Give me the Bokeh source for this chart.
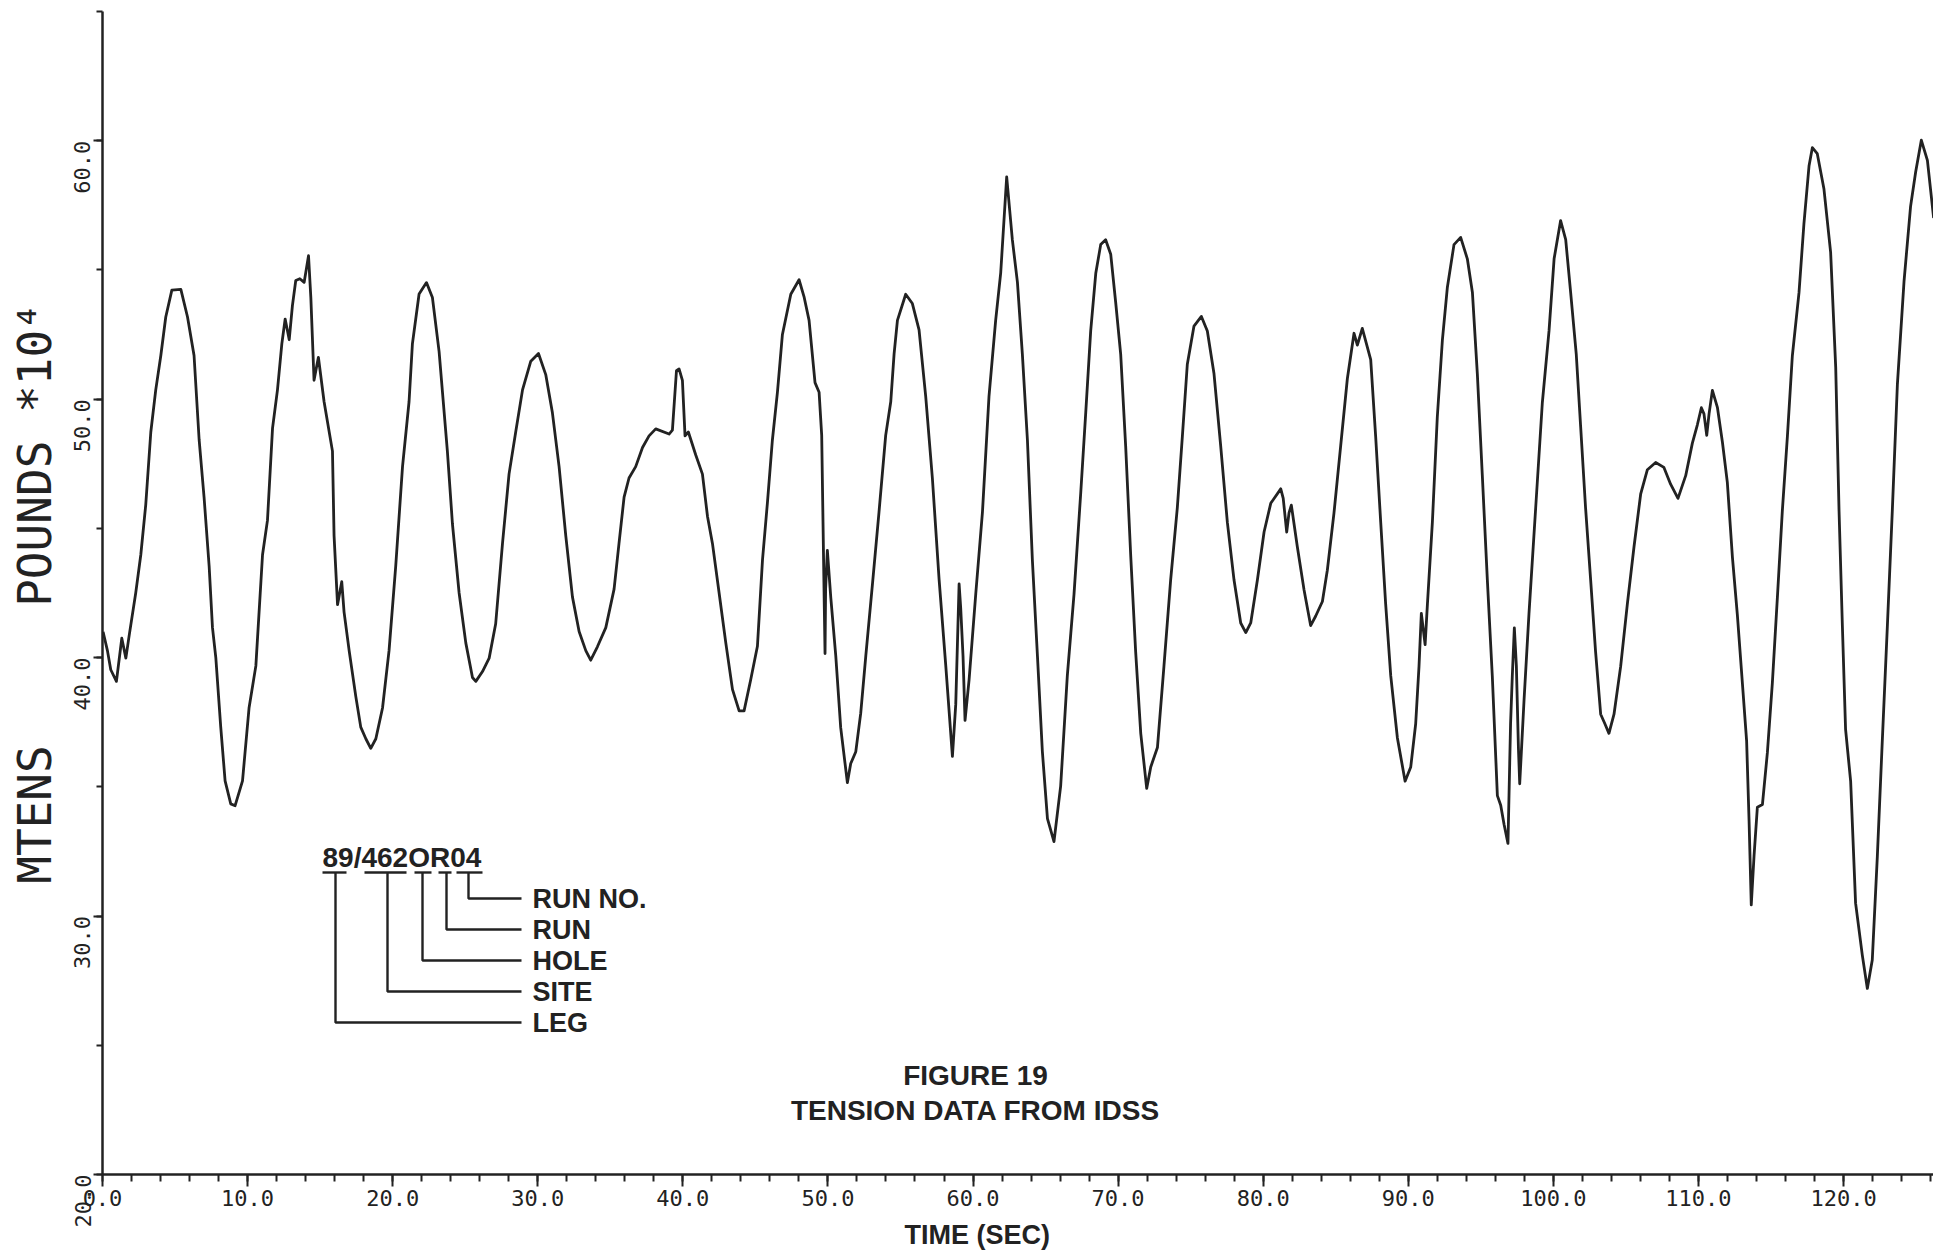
import math
from bokeh.plotting import figure
from bokeh.models import FixedTicker, Label, PrintfTickFormatter, Title
from bokeh.embed import file_html
from bokeh.resources import INLINE

# ---- data (time in s, tension in pounds * 10^4) ----
time_s = [
    0.04, 0.34, 0.57, 0.96, 1.33, 1.61, 1.84, 2.29, 2.64, 2.98, 3.33, 3.67, 4.02, 4.36, 4.78,
    5.40, 5.86, 6.31, 6.66, 7.0, 7.35, 7.58, 7.81, 8.15, 8.45, 8.84, 9.14, 9.65, 10.1, 10.57,
    11.03, 11.37, 11.72, 12.06, 12.36, 12.59, 12.87, 13.09, 13.32, 13.6, 13.9, 14.2, 14.36,
    14.58, 14.88, 15.27, 15.85, 15.96, 16.2, 16.49, 16.65, 17.0, 17.46, 17.8, 18.15, 18.49,
    18.84, 19.3, 19.75, 20.21, 20.68, 21.13,
    21.36, 21.82, 22.33, 22.74, 23.2, 23.77, 24.12, 24.58, 25.04, 25.5, 25.73, 26.19, 26.65,
    27.1, 27.57, 28.02, 28.48, 28.95, 29.52, 30.05, 30.55, 31.01, 31.47, 31.93, 32.39, 32.85,
    33.31, 33.65, 34.11, 34.69, 35.26, 35.6, 35.95, 36.29, 36.75, 37.22, 37.67, 38.13, 39.05,
    39.28, 39.56, 39.74, 39.97, 40.15, 40.38, 40.89, 41.35, 41.7, 42.04, 42.5, 42.96,
    43.42, 43.88, 44.22, 44.68, 45.14, 45.49, 45.83, 46.17, 46.52, 46.86, 47.44, 48.01, 48.35,
    48.7, 49.11, 49.39, 49.57, 49.66, 49.75, 49.8, 49.84, 49.96, 50.2, 50.54, 50.88, 51.34,
    51.57, 51.92, 52.26, 52.61, 53.07, 53.52, 53.98, 54.33, 54.56, 54.79, 55.36, 55.82, 56.28,
    56.74, 57.2, 57.66, 58.12, 58.58, 58.81, 59.04, 59.15, 59.31, 59.45, 59.73, 60.19, 60.65,
    61.1, 61.56, 61.91, 62.32, 62.71, 63.06, 63.4, 63.75, 64.09, 64.44, 64.78, 65.13, 65.58,
    66.04, 66.5, 66.96, 67.42, 67.77, 68.11, 68.46, 68.8, 69.14, 69.49, 69.83, 70.18, 70.52,
    70.87, 71.21, 71.56, 71.97, 72.25, 72.71, 73.16, 73.62, 74.08, 74.43, 74.77, 75.23, 75.74,
    76.15, 76.61, 77.07, 77.53, 77.99, 78.45, 78.8, 79.14, 79.6, 80.06, 80.52, 81.21, 81.38,
    81.62, 81.78, 81.94, 82.35, 82.81, 83.27, 83.62, 84.08, 84.42, 84.88, 85.34, 85.8, 86.26,
    86.49, 86.83, 87.41,
    87.75, 88.1, 88.44, 88.79, 89.25, 89.78, 90.17, 90.51, 90.74, 90.9, 91.16, 91.32, 91.66,
    92.0, 92.35, 92.69, 93.15, 93.61, 94.07, 94.42, 94.76, 95.1, 95.45, 95.79, 96.14, 96.37,
    96.6, 96.87, 97.05, 97.17, 97.31, 97.45, 97.59, 97.68, 97.98, 98.32, 98.78, 99.24, 99.7,
    100.05, 100.5, 100.85, 101.19, 101.58, 101.88, 102.22, 102.57, 102.91, 103.26, 103.55,
    103.83, 104.18, 104.64, 105.1, 105.56, 106.02, 106.48, 107.05, 107.62, 108.08, 108.59,
    109.12, 109.58, 109.92,
    110.2, 110.38, 110.57, 110.73, 110.96, 111.31, 111.65, 111.99, 112.34, 112.68, 113.03,
    113.32, 113.49, 113.64, 113.83, 114.06, 114.41, 114.75, 115.09, 115.44, 115.78, 116.13,
    116.47, 116.93, 117.27, 117.62, 117.85, 118.19, 118.65, 119.11, 119.46, 119.69, 119.92,
    120.14, 120.49, 120.83, 121.29, 121.64, 121.98, 122.33, 122.67, 123.02, 123.36, 123.71,
    124.17, 124.62, 124.97, 125.36, 125.78, 126.21,
]

tension = [
    41.0, 40.27, 39.53, 39.08, 40.75, 39.98, 40.86, 42.5, 43.98, 45.91, 48.73, 50.36, 51.69, 53.18, 54.22,
    54.25, 53.18, 51.69, 48.43, 46.21, 43.54, 41.16, 40.0, 37.31, 35.23, 34.34, 34.27, 35.23, 38.05, 39.68,
    43.98, 45.31, 48.88, 50.36, 52.14, 53.1, 52.3, 53.62, 54.59, 54.66, 54.52, 55.55, 53.93,
    50.73, 51.62, 49.91, 47.99, 44.72, 42.05, 42.94, 41.76, 40.27, 38.49, 37.31, 36.86, 36.49,
    36.86, 38.05, 40.27, 43.54, 47.4, 49.91,
    52.14, 54.07, 54.51, 53.93, 51.84, 47.99, 45.17, 42.5, 40.57, 39.23, 39.08, 39.46, 39.98,
    41.31, 44.42, 47.1, 48.73, 50.36, 51.47, 51.77, 50.95, 49.47, 47.39, 44.72, 42.35, 41.01,
    40.27, 39.9, 40.42, 41.16, 42.65, 44.42, 46.21, 46.95, 47.39, 48.13, 48.58, 48.85, 48.65,
    48.8, 51.1, 51.17, 50.73, 48.58, 48.73, 47.84, 47.1, 45.46, 44.42, 42.5, 40.57,
    38.77, 37.94, 37.94, 39.15, 40.44, 43.78, 46.0, 48.41, 50.27, 52.49, 54.06, 54.62, 53.97,
    53.05, 50.64, 50.27, 48.6, 45.26, 41.93, 40.16, 42.67, 44.15, 42.3, 40.07, 37.29, 35.16,
    35.9, 36.36, 37.85, 40.07, 42.85, 45.63, 48.6, 49.9, 51.75, 53.05, 54.06, 53.7, 52.68,
    50.1, 46.93, 43.04, 39.7, 36.18, 38.2, 42.85, 41.93, 40.07, 37.57, 39.15, 42.48, 45.63,
    50.1, 53.05, 54.9, 58.6, 56.17, 54.53, 51.75, 48.41, 43.78, 40.07, 36.36, 33.77, 32.88,
    35.03, 39.3, 42.45, 46.34, 49.49, 52.64, 54.87, 55.98, 56.17, 55.61, 53.76, 51.72, 48.19,
    43.93, 40.22, 37.07, 34.94, 35.77, 36.52, 39.67, 43.0, 45.79, 48.57, 51.35, 52.83, 53.2,
    52.64, 50.98, 48.19, 45.23, 43.0, 41.34, 40.97, 41.34, 43.0, 44.86, 45.97, 46.53, 46.16,
    44.86, 45.6, 45.9, 44.3, 42.64, 41.24, 41.61, 42.17, 43.38, 45.6, 48.19, 50.79, 52.55,
    52.09, 52.74, 51.53,
    48.57, 45.23, 42.08, 39.3, 36.89, 35.22, 35.77, 37.44, 39.67, 41.71, 40.5, 42.08, 45.23,
    49.31, 52.28, 54.31, 55.98, 56.26, 55.43, 54.13, 50.98, 47.08, 43.0, 39.3, 34.66, 34.29,
    33.55, 32.81, 37.44, 39.3, 41.15, 39.67, 36.52, 35.12, 38.37, 41.71, 45.79, 49.87, 52.64,
    55.43, 56.91, 56.17, 54.13, 51.72, 48.94, 45.79, 43.0, 40.22, 37.81, 37.44,
    37.07, 37.81, 39.67, 42.08, 44.3, 46.34, 47.27, 47.55, 47.36, 46.71, 46.16,
    47.04, 48.3, 49.0,
    49.67, 49.43, 48.6, 49.43, 50.34, 49.67, 48.34, 46.78, 43.89, 41.66, 38.99,
    36.77, 33.65, 30.43, 32.32, 34.21, 34.32, 36.32, 38.99, 42.33, 45.67, 48.56,
    51.67, 54.12, 56.79, 59.02, 59.73, 59.5, 58.13, 55.68, 51.23, 45.67, 41.22,
    37.22, 35.21, 30.5, 28.5, 27.2, 28.3, 32.32, 36.77, 41.22, 45.67, 50.56,
    54.57, 57.46, 58.79, 60.02, 59.24, 57.01,
]

x_major = [0, 10, 20, 30, 40, 50, 60, 70, 80, 90, 100, 110, 120]
x_minor = list(range(0, 127, 2))
y_major = [20, 30, 40, 50, 60]
y_minor = [20, 25, 30, 35, 40, 45, 50, 55, 60, 65]

x_title = "TIME (SEC)"
y_title = "MTENS" + "\u00a0" * 5 + "POUNDS *10\u2074"
caption = ["FIGURE 19", "TENSION DATA FROM IDSS"]
code_text = "89/462OR04"
code_parts = ["RUN NO.", "RUN", "HOLE", "SITE", "LEG"]

INK = "#222222"

W, H = 1933, 1258
LEFT, RIGHT, TOP, BOTTOM = 102, 0, 11, 84
X0, X1 = 0.0, 126.2
Y0, Y1 = 20.0, 65.0
sx = (W - LEFT - RIGHT) / (X1 - X0)
sy = (H - TOP - BOTTOM) / (Y1 - Y0)


def dx(px):
    return X0 + (px - LEFT) / sx


def dy(py):
    return Y1 - (py - TOP) / sy


p = figure(width=W, height=H, x_range=(X0, X1), y_range=(Y0, Y1),
           output_backend="svg", toolbar_location=None,
           min_border_left=LEFT, min_border_right=RIGHT,
           min_border_top=TOP, min_border_bottom=BOTTOM)
p.outline_line_color = None
p.grid.visible = False
p.background_fill_color = "white"
p.border_fill_color = "white"

p.line(time_s, tension, line_width=2.8, line_color=INK, line_join="round")

for ax in (p.xaxis[0], p.yaxis[0]):
    ax.axis_line_color = INK
    ax.axis_line_width = 2.5
    ax.major_tick_line_color = INK
    ax.minor_tick_line_color = INK
    ax.major_tick_line_width = 2
    ax.minor_tick_line_width = 2
    ax.major_tick_in = 0
    ax.minor_tick_in = 0
    ax.major_label_text_font = "DejaVu Sans Mono"
    ax.major_label_text_font_size = "22px"
    ax.major_label_text_color = INK
    ax.formatter = PrintfTickFormatter(format="%.1f")

p.xaxis[0].ticker = FixedTicker(ticks=x_major, minor_ticks=x_minor)
p.xaxis[0].major_tick_out = 12
p.xaxis[0].minor_tick_out = 7
p.xaxis[0].major_label_standoff = 3

p.yaxis[0].ticker = FixedTicker(ticks=y_major, minor_ticks=y_minor)
p.yaxis[0].major_tick_out = 9
p.yaxis[0].minor_tick_out = 6
p.yaxis[0].major_label_standoff = 11
p.yaxis[0].major_label_orientation = math.pi / 2
p.yaxis[0].axis_label = y_title
p.yaxis[0].axis_label_text_font = "DejaVu Sans Mono"
p.yaxis[0].axis_label_text_font_size = "46px"
p.yaxis[0].axis_label_text_font_style = "normal"
p.yaxis[0].axis_label_text_color = INK
p.yaxis[0].axis_label_standoff = 2

# x-axis title (a below-title, left aligned and offset to the reference position)
p.add_layout(Title(text=x_title, align="left", offset=802, standoff=18,
                   text_font="Liberation Sans", text_font_style="bold",
                   text_font_size="27px", text_color=INK), "below")

# figure caption
for txt, cy in zip(caption, (1075, 1110)):
    p.add_layout(Label(x=dx(975), y=dy(cy), text=txt,
                       text_align="center", text_baseline="middle",
                       text_font="Liberation Sans", text_font_style="bold",
                       text_font_size="28px", text_color=INK))

# run code key
p.add_layout(Label(x=dx(322), y=dy(857), text=code_text,
                   text_align="left", text_baseline="middle",
                   text_font="Liberation Sans", text_font_style="bold",
                   text_font_size="28px", text_color=INK))

underlines = [(456, 482), (438, 451), (414, 431), (364, 406), (322, 346)]
drops = [468, 446, 422, 387, 335]
levels = [898, 929, 960, 991, 1022]
u_y = 872
bx, by = [], []
for (ua, ub) in underlines:
    bx.append([dx(ua), dx(ub)])
    by.append([dy(u_y), dy(u_y)])
for xv, lv in zip(drops, levels):
    bx.append([dx(xv), dx(xv), dx(521)])
    by.append([dy(u_y), dy(lv), dy(lv)])
p.multi_line(bx, by, line_color=INK, line_width=2.4)

for txt, lv in zip(code_parts, levels):
    p.add_layout(Label(x=dx(532), y=dy(lv), text=txt,
                       text_align="left", text_baseline="middle",
                       text_font="Liberation Sans", text_font_style="bold",
                       text_font_size="27px", text_color=INK))

open("out.html", "w").write(file_html(p, INLINE))
